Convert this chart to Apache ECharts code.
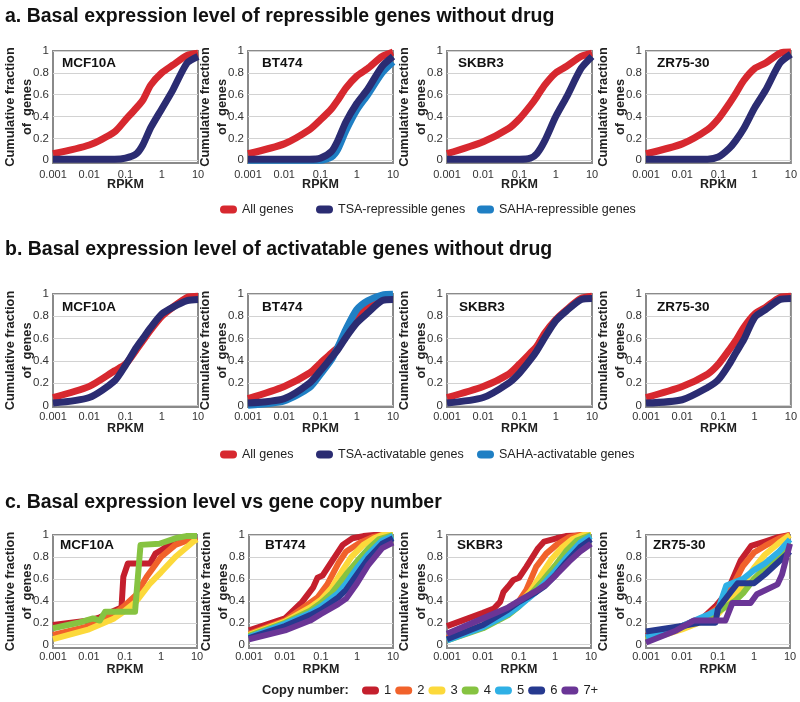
<!DOCTYPE html>
<html><head><meta charset="utf-8">
<script src="https://cdn.jsdelivr.net/npm/echarts@6/dist/echarts.min.js"></script>
<style>html,body{margin:0;padding:0;background:#fff}#chart{width:800px;height:702px}</style>
</head><body><div id="chart"></div>
<script>
// ---------- data ----------
const cellLines = ['MCF10A', 'BT474', 'SKBR3', 'ZR75-30'];
const panelTitles = [
  'a. Basal expression level of repressible genes without drug',
  'b. Basal expression level of activatable genes without drug',
  'c. Basal expression level vs gene copy number'
];
const yTicks = [0, 0.2, 0.4, 0.6, 0.8, 1];
const xTicks = [0.001, 0.01, 0.1, 1, 10];
const rpkmGrid = [0.001, 0.01, 0.05, 0.1, 0.2, 0.3, 0.5, 1, 2, 5, 10];

const legendA = ['All genes', 'TSA-repressible genes', 'SAHA-repressible genes'];
const legendB = ['All genes', 'TSA-activatable genes', 'SAHA-activatable genes'];
const copyNumbers = ['1', '2', '3', '4', '5', '6', '7+'];

// Panel a (values on rpkmGrid)
const aAll_MCF10A  = [0.06, 0.14, 0.26, 0.37, 0.48, 0.55, 0.69, 0.80, 0.87, 0.96, 0.98];
const aTSA_MCF10A  = [0.01, 0.01, 0.01, 0.02, 0.06, 0.14, 0.30, 0.47, 0.64, 0.89, 0.95];
const aAll_BT474   = [0.06, 0.15, 0.28, 0.37, 0.47, 0.55, 0.66, 0.77, 0.84, 0.95, 0.99];
const aTSA_BT474   = [0.01, 0.01, 0.01, 0.02, 0.08, 0.18, 0.35, 0.52, 0.65, 0.86, 0.95];
const aSAHA_BT474  = [0.00, 0.00, 0.00, 0.00, 0.03, 0.10, 0.27, 0.46, 0.60, 0.80, 0.90];
const aAll_SKBR3   = [0.06, 0.17, 0.29, 0.38, 0.50, 0.58, 0.69, 0.80, 0.86, 0.95, 0.98];
const aTSA_SKBR3   = [0.01, 0.01, 0.01, 0.01, 0.02, 0.06, 0.18, 0.40, 0.58, 0.84, 0.95];
const aAll_ZR7530  = [0.06, 0.15, 0.28, 0.38, 0.52, 0.61, 0.73, 0.84, 0.89, 0.98, 0.99];
const aTSA_ZR7530  = [0.01, 0.01, 0.01, 0.03, 0.11, 0.18, 0.29, 0.48, 0.64, 0.89, 0.97];

// Panel b (values on rpkmGrid)
const bAll_MCF10A  = [0.07, 0.17, 0.31, 0.37, 0.50, 0.58, 0.68, 0.80, 0.88, 0.97, 0.98];
const bTSA_MCF10A  = [0.02, 0.07, 0.22, 0.36, 0.52, 0.60, 0.70, 0.82, 0.88, 0.94, 0.95];
const bAll_BT474   = [0.06, 0.17, 0.29, 0.38, 0.47, 0.52, 0.62, 0.79, 0.88, 0.95, 0.96];
const bTSA_BT474   = [0.02, 0.06, 0.20, 0.31, 0.43, 0.50, 0.61, 0.74, 0.83, 0.94, 0.95];
const bSAHA_BT474  = [0.00, 0.04, 0.16, 0.28, 0.41, 0.52, 0.68, 0.86, 0.94, 0.99, 1.00];
const bAll_SKBR3   = [0.07, 0.17, 0.28, 0.37, 0.47, 0.53, 0.65, 0.77, 0.86, 0.96, 0.98];
const bTSA_SKBR3   = [0.02, 0.07, 0.20, 0.29, 0.41, 0.49, 0.61, 0.76, 0.85, 0.95, 0.96];
const bAll_ZR7530  = [0.07, 0.17, 0.28, 0.37, 0.50, 0.58, 0.70, 0.82, 0.88, 0.97, 0.98];
const bTSA_ZR7530  = [0.02, 0.05, 0.16, 0.23, 0.37, 0.47, 0.59, 0.79, 0.86, 0.95, 0.96];

// Panel c ([RPKM, cumulative fraction] pairs) per cell line and copy number
const c_MCF10A_1 = [[0.001,0.18],[0.01,0.22],[0.02,0.25],[0.05,0.31],[0.08,0.34],[0.09,0.62],[0.12,0.74],[0.5,0.74],[0.7,0.83],[1,0.86],[2,0.93],[5,0.98],[10,0.99]];
const c_MCF10A_2 = [[0.001,0.09],[0.01,0.17],[0.05,0.28],[0.1,0.36],[0.2,0.45],[0.4,0.62],[1,0.80],[2.5,0.91],[8,0.97],[10,0.98]];
const c_MCF10A_3 = [[0.001,0.05],[0.01,0.14],[0.05,0.24],[0.1,0.31],[0.2,0.39],[0.5,0.56],[1,0.66],[2.5,0.80],[8,0.94],[10,0.96]];
const c_MCF10A_4 = [[0.001,0.15],[0.005,0.20],[0.013,0.24],[0.02,0.22],[0.028,0.30],[0.19,0.30],[0.27,0.91],[0.9,0.92],[2.5,0.97],[5,0.99],[10,0.99]];

const c_BT474_1 = [[0.001,0.13],[0.01,0.24],[0.03,0.39],[0.06,0.52],[0.08,0.61],[0.11,0.63],[0.2,0.76],[0.4,0.91],[0.75,0.97],[1.5,0.99],[3,1.0],[10,1.0]];
const c_BT474_2 = [[0.001,0.10],[0.01,0.22],[0.04,0.36],[0.08,0.43],[0.15,0.55],[0.3,0.74],[0.5,0.85],[1.2,0.93],[2.7,0.98],[5,1.0],[10,1.0]];
const c_BT474_3 = [[0.001,0.09],[0.01,0.21],[0.05,0.34],[0.1,0.41],[0.2,0.52],[0.4,0.68],[0.7,0.80],[1.5,0.91],[3,0.97],[5,1.0],[10,1.0]];
const c_BT474_4 = [[0.001,0.08],[0.01,0.20],[0.05,0.31],[0.1,0.38],[0.2,0.47],[0.5,0.64],[1,0.76],[2,0.87],[4,0.96],[10,1.0]];
const c_BT474_5 = [[0.001,0.07],[0.01,0.19],[0.05,0.29],[0.1,0.35],[0.3,0.47],[0.5,0.56],[1,0.70],[2,0.82],[5,0.95],[10,0.99]];
const c_BT474_6 = [[0.001,0.06],[0.01,0.17],[0.05,0.27],[0.1,0.32],[0.3,0.43],[0.5,0.50],[1,0.64],[2,0.78],[5,0.92],[10,0.97]];
const c_BT474_7 = [[0.001,0.05],[0.01,0.13],[0.05,0.22],[0.1,0.28],[0.3,0.37],[0.5,0.42],[1,0.56],[2,0.72],[5,0.88],[10,0.93]];

const c_SKBR3_1 = [[0.001,0.17],[0.01,0.29],[0.02,0.33],[0.03,0.39],[0.037,0.48],[0.05,0.53],[0.07,0.59],[0.1,0.61],[0.16,0.71],[0.34,0.88],[0.5,0.94],[1.1,0.97],[2,0.99],[10,1.0]];
const c_SKBR3_2 = [[0.001,0.06],[0.01,0.18],[0.05,0.32],[0.1,0.40],[0.16,0.50],[0.3,0.71],[0.57,0.83],[1.1,0.91],[2.5,0.98],[5,1.0],[10,1.0]];
const c_SKBR3_3 = [[0.001,0.05],[0.01,0.17],[0.05,0.30],[0.1,0.37],[0.2,0.48],[0.4,0.63],[0.8,0.78],[1.5,0.88],[3,0.96],[6,1.0],[10,1.0]];
const c_SKBR3_4 = [[0.001,0.04],[0.01,0.15],[0.05,0.27],[0.1,0.35],[0.2,0.45],[0.5,0.60],[1,0.72],[2,0.85],[4,0.95],[10,1.0]];
const c_SKBR3_5 = [[0.001,0.04],[0.01,0.16],[0.05,0.28],[0.1,0.35],[0.3,0.48],[0.5,0.56],[1,0.67],[2,0.79],[5,0.93],[10,0.99]];
const c_SKBR3_6 = [[0.001,0.05],[0.01,0.18],[0.05,0.32],[0.1,0.39],[0.3,0.48],[0.5,0.53],[1,0.63],[2,0.75],[5,0.89],[10,0.96]];
const c_SKBR3_7 = [[0.001,0.10],[0.01,0.24],[0.05,0.34],[0.1,0.40],[0.3,0.49],[0.57,0.55],[1.1,0.64],[2.5,0.76],[5,0.85],[10,0.92]];

const c_ZR7530_1 = [[0.001,0.08],[0.01,0.17],[0.04,0.25],[0.085,0.35],[0.18,0.48],[0.43,0.77],[0.83,0.90],[2,0.94],[4.7,0.98],[10,1.0]];
const c_ZR7530_2 = [[0.001,0.07],[0.01,0.16],[0.04,0.24],[0.1,0.34],[0.2,0.47],[0.5,0.72],[1,0.84],[2,0.90],[5,0.97],[10,1.0]];
const c_ZR7530_3 = [[0.001,0.04],[0.01,0.14],[0.05,0.23],[0.1,0.28],[0.3,0.45],[1,0.70],[2,0.82],[5,0.93],[10,1.0]];
const c_ZR7530_4 = [[0.001,0.05],[0.01,0.16],[0.05,0.25],[0.1,0.30],[0.3,0.40],[0.5,0.47],[1,0.60],[2,0.70],[5,0.82],[10,0.93]];
const c_ZR7530_5 = [[0.001,0.07],[0.01,0.17],[0.05,0.27],[0.1,0.32],[0.17,0.54],[0.5,0.60],[1,0.68],[2,0.74],[5,0.85],[10,0.96]];
const c_ZR7530_6 = [[0.001,0.12],[0.01,0.17],[0.03,0.20],[0.085,0.20],[0.1,0.33],[0.35,0.56],[1,0.56],[2,0.64],[5,0.76],[10,0.85]];
const c_ZR7530_7 = [[0.001,0.02],[0.007,0.13],[0.021,0.22],[0.16,0.22],[0.25,0.38],[0.8,0.38],[1.2,0.46],[4.5,0.55],[6,0.64],[10,0.92]];

// ---------- styling / layout ----------
const FONT = '"Liberation Sans", Arial, Helvetica, sans-serif';
const COL_ALL = '#d7282f', COL_TSA = '#2b2c72', COL_SAHA = '#1f7fc4';
const COPY_COLORS = ['#c41f2d', '#f1622b', '#fcd93b', '#86c341', '#2fb0e5', '#26398f', '#6a3596'];
const PILL = 'path://M4,0 L13,0 A4,4 0 0 1 13,8 L4,8 A4,4 0 0 1 4,0 Z';

const layout = [
  { top: 51,  h: 112, lefts: [53, 248, 447, 646], w: 145, yMin: -0.025, labTop: 56,  labX: [62, 262, 458, 657], xMargin: 6, lw: 7 },
  { top: 294, h: 113, lefts: [53, 248, 447, 646], w: 145, yMin: -0.015, labTop: 300, labX: [62, 262, 459, 657], xMargin: 4, lw: 7 },
  { top: 535, h: 113, lefts: [53, 249, 447, 646], w: 144, yMin: -0.03,  labTop: 538, labX: [60, 265, 457, 653], xMargin: 3, lw: 6 }
];
const legendRowTops = [203, 448];
const legendItemLefts = [220, 316, 477];

const onGrid = arr => rpkmGrid.map((x, i) => [x, arr[i]]);

const panelSeries = [
  [ // a
    [['All genes', COL_ALL, onGrid(aAll_MCF10A)], ['TSA-repressible genes', COL_TSA, onGrid(aTSA_MCF10A)]],
    [['All genes', COL_ALL, onGrid(aAll_BT474)], ['SAHA-repressible genes', COL_SAHA, onGrid(aSAHA_BT474)], ['TSA-repressible genes', COL_TSA, onGrid(aTSA_BT474)]],
    [['All genes', COL_ALL, onGrid(aAll_SKBR3)], ['TSA-repressible genes', COL_TSA, onGrid(aTSA_SKBR3)]],
    [['All genes', COL_ALL, onGrid(aAll_ZR7530)], ['TSA-repressible genes', COL_TSA, onGrid(aTSA_ZR7530)]]
  ],
  [ // b
    [['All genes', COL_ALL, onGrid(bAll_MCF10A)], ['TSA-activatable genes', COL_TSA, onGrid(bTSA_MCF10A)]],
    [['All genes', COL_ALL, onGrid(bAll_BT474)], ['SAHA-activatable genes', COL_SAHA, onGrid(bSAHA_BT474)], ['TSA-activatable genes', COL_TSA, onGrid(bTSA_BT474)]],
    [['All genes', COL_ALL, onGrid(bAll_SKBR3)], ['TSA-activatable genes', COL_TSA, onGrid(bTSA_SKBR3)]],
    [['All genes', COL_ALL, onGrid(bAll_ZR7530)], ['TSA-activatable genes', COL_TSA, onGrid(bTSA_ZR7530)]]
  ],
  [ // c
    [c_MCF10A_1, c_MCF10A_2, c_MCF10A_3, c_MCF10A_4].map((d, i) => [copyNumbers[i], COPY_COLORS[i], d]),
    [c_BT474_1, c_BT474_2, c_BT474_3, c_BT474_4, c_BT474_5, c_BT474_6, c_BT474_7].map((d, i) => [copyNumbers[i], COPY_COLORS[i], d]),
    [c_SKBR3_1, c_SKBR3_2, c_SKBR3_3, c_SKBR3_4, c_SKBR3_5, c_SKBR3_6, c_SKBR3_7].map((d, i) => [copyNumbers[i], COPY_COLORS[i], d]),
    [c_ZR7530_1, c_ZR7530_2, c_ZR7530_3, c_ZR7530_4, c_ZR7530_5, c_ZR7530_6, c_ZR7530_7].map((d, i) => [copyNumbers[i], COPY_COLORS[i], d])
  ]
];

const grids = [], xAxes = [], yAxes = [], series = [], titles = [];
const titleTops = [7, 240, 493];
panelTitles.forEach((t, i) => titles.push({
  text: t, left: 5, top: titleTops[i], padding: 0,
  textStyle: { fontFamily: FONT, fontSize: 19.5, fontWeight: 'bold', color: '#111' }
}));

layout.forEach((L, p) => {
  cellLines.forEach((cl, k) => {
    const gi = grids.length;
    grids.push({ left: L.lefts[k], top: L.top, width: L.w, height: L.h, show: true,
      borderColor: '#8a8a8a', borderWidth: 2, backgroundColor: 'transparent' });
    xAxes.push({ type: 'log', logBase: 10, gridIndex: gi, min: 0.001, max: 10,
      name: 'RPKM', nameLocation: 'middle', nameGap: 15, nameMoveOverlap: false,
      nameTextStyle: { fontFamily: FONT, fontSize: 12.5, fontWeight: 'bold', color: '#222' },
      axisLine: { show: false }, axisTick: { show: false, customValues: xTicks }, splitLine: { show: false },
      axisLabel: { customValues: xTicks, margin: L.xMargin, fontFamily: FONT, fontSize: 11, color: '#333',
        formatter: v => String(parseFloat(Number(v).toPrecision(3))) } });
    yAxes.push({ type: 'value', gridIndex: gi, min: L.yMin, max: 1,
      name: 'Cumulative fraction\nof  genes', nameLocation: 'middle', nameRotate: 90, nameGap: 17.5, nameMoveOverlap: false,
      nameTextStyle: { fontFamily: FONT, fontSize: 12.8, fontWeight: 'bold', color: '#222', lineHeight: 17, align: 'center' },
      axisLine: { show: false }, axisTick: { show: false, customValues: yTicks },
      splitLine: { show: true, lineStyle: { color: '#d2d2d2', width: 1 } },
      axisLabel: { customValues: yTicks, margin: 4, fontFamily: FONT, fontSize: 11.5, color: '#333' } });
    titles.push({ text: cl, left: L.labX[k], top: L.labTop, padding: 0,
      textStyle: { fontFamily: FONT, fontSize: 13.5, fontWeight: 'bold', color: '#111' } });
    panelSeries[p][k].forEach(([name, color, data]) => {
      series.push({ type: 'line', name, xAxisIndex: gi, yAxisIndex: gi, data,
        showSymbol: false, symbol: 'none', smooth: p < 2 ? 0.25 : false, color,
        lineStyle: { color, width: L.lw, cap: 'butt', join: 'round' }, itemStyle: { color },
        silent: true, animation: false });
    });
  });
});

const legendText = { fontFamily: FONT, fontSize: 12.5, color: '#222' };
const legends = [];
[legendA, legendB].forEach((names, r) => {
  names.forEach((nm, j) => legends.push({
    data: [nm], left: legendItemLefts[j], top: legendRowTops[r], padding: 0, icon: PILL,
    itemWidth: 17, itemHeight: 8, selectedMode: false, textStyle: legendText
  }));
});
legends.push({ data: copyNumbers, left: 362, top: 684, padding: 0, icon: PILL, itemWidth: 17, itemHeight: 8,
  itemGap: 4, selectedMode: false, textStyle: Object.assign({}, legendText, { fontSize: 13 }) });

const option = {
  backgroundColor: '#fff',
  animation: false,
  title: titles,
  grid: grids, xAxis: xAxes, yAxis: yAxes, series,
  legend: legends,
  graphic: [
    { type: 'text', left: 262, top: 684, style: { text: 'Copy number:', font: 'bold 12.8px ' + FONT, fill: '#222' } }
  ]
};

const chart = echarts.init(document.getElementById('chart'), null, { renderer: 'canvas' });
chart.setOption(option);
</script>
</body></html>
